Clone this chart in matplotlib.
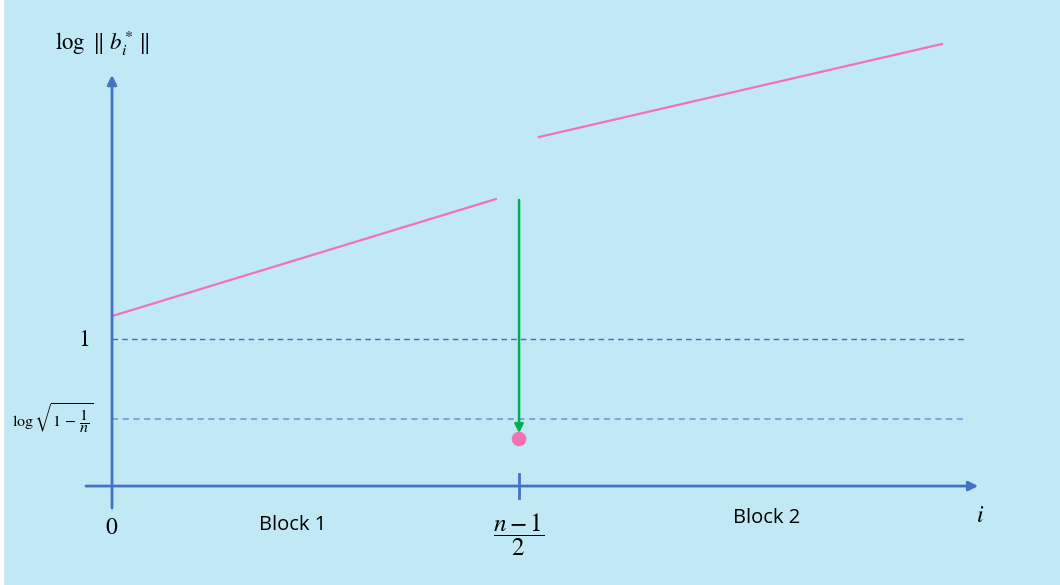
import matplotlib
matplotlib.use("Agg")
from matplotlib import pyplot as plt

plt.rcParams['mathtext.fontset'] = 'stix'

# x in units of (n-1)/2, y in units of the level "1"
block1_x = [0.0, 0.943]
block1_y = [1.156, 1.952]
block2_x = [1.049, 2.039]
block2_y = [2.374, 3.007]
level_one = 1.0
level_sqrt = 0.456
dot_x = [1.0]
dot_y = [0.32]
arrow_start = (1.0, 1.946)
arrow_end = (1.0, 0.36)
x_axis_end = 2.128
y_axis_top = 2.796
dash_end = 2.093

blue = '#4472C4'
pink = '#F272B4'
green = '#00B050'
bg = '#C0E9F5'

fig = plt.figure(figsize=(10.6, 5.85), dpi=100)
fig.patch.set_facecolor(bg)
ax = fig.add_axes([0, 0, 1, 1])
ax.set_facecolor(bg)
ax.set_xlim(-0.2752, 2.329)
ax.set_ylim(-0.673, 3.306)
ax.axis('off')

# thin white strip on the left edge
fig.patches.append(plt.Rectangle((0, 0), 0.003, 1, transform=fig.transFigure,
                                 color='white', zorder=0))

# axes with arrows
ax.annotate('', xy=(x_axis_end, 0), xytext=(-0.064, 0),
            arrowprops=dict(arrowstyle='-|>', color=blue, lw=2, mutation_scale=14,
                            shrinkA=0, shrinkB=0))
ax.annotate('', xy=(0, y_axis_top), xytext=(0, -0.15),
            arrowprops=dict(arrowstyle='-|>', color=blue, lw=2, mutation_scale=14,
                            shrinkA=0, shrinkB=0))
# tick at (n-1)/2
ax.plot([1.0, 1.0], [-0.08, 0.08], color=blue, lw=2)

# dashed levels
ax.plot([0, dash_end], [level_one, level_one], color='#3F6DC0', lw=1.0, ls=(0, (4, 3)))
ax.plot([0, dash_end], [level_sqrt, level_sqrt], color='#6A93DA', lw=1.1, ls=(0, (4, 3)))

# pink segments
ax.plot(block1_x, block1_y, color=pink, lw=1.6)
ax.plot(block2_x, block2_y, color=pink, lw=1.6)

# green arrow and dot
ax.annotate('', xy=arrow_end, xytext=arrow_start,
            arrowprops=dict(arrowstyle='-|>', color=green, lw=1.8, mutation_scale=13,
                            shrinkA=0, shrinkB=0))
ax.scatter(dot_x, dot_y, s=110, color=pink, zorder=5, edgecolors='none')

# labels
ax.text(-0.14, 3.01, r'$\log\ \Vert\ b_i^{*}\ \Vert$', fontsize=16.5, ha='left', va='center')
ax.text(-0.07, level_one, r'$1$', fontsize=17, ha='center', va='center')
ax.text(-0.245, level_sqrt, r'$\log\sqrt{1\,-\,\dfrac{1}{n}}$', fontsize=11.5, ha='left', va='center')
ax.text(0.0, -0.28, r'$0$', fontsize=17, ha='center', va='center')
ax.text(1.0, -0.33, r'$\dfrac{n-1}{2}$', fontsize=18, ha='center', va='center')
ax.text(2.133, -0.2, r'$i$', fontsize=17, ha='center', va='center')
ax.text(0.445, -0.265, 'Block 1', fontsize=14.5, family='Open Sans', ha='center', va='center')
ax.text(1.609, -0.22, 'Block 2', fontsize=14.5, family='Open Sans', ha='center', va='center')

fig.savefig('out.png', dpi=100, facecolor=bg)
